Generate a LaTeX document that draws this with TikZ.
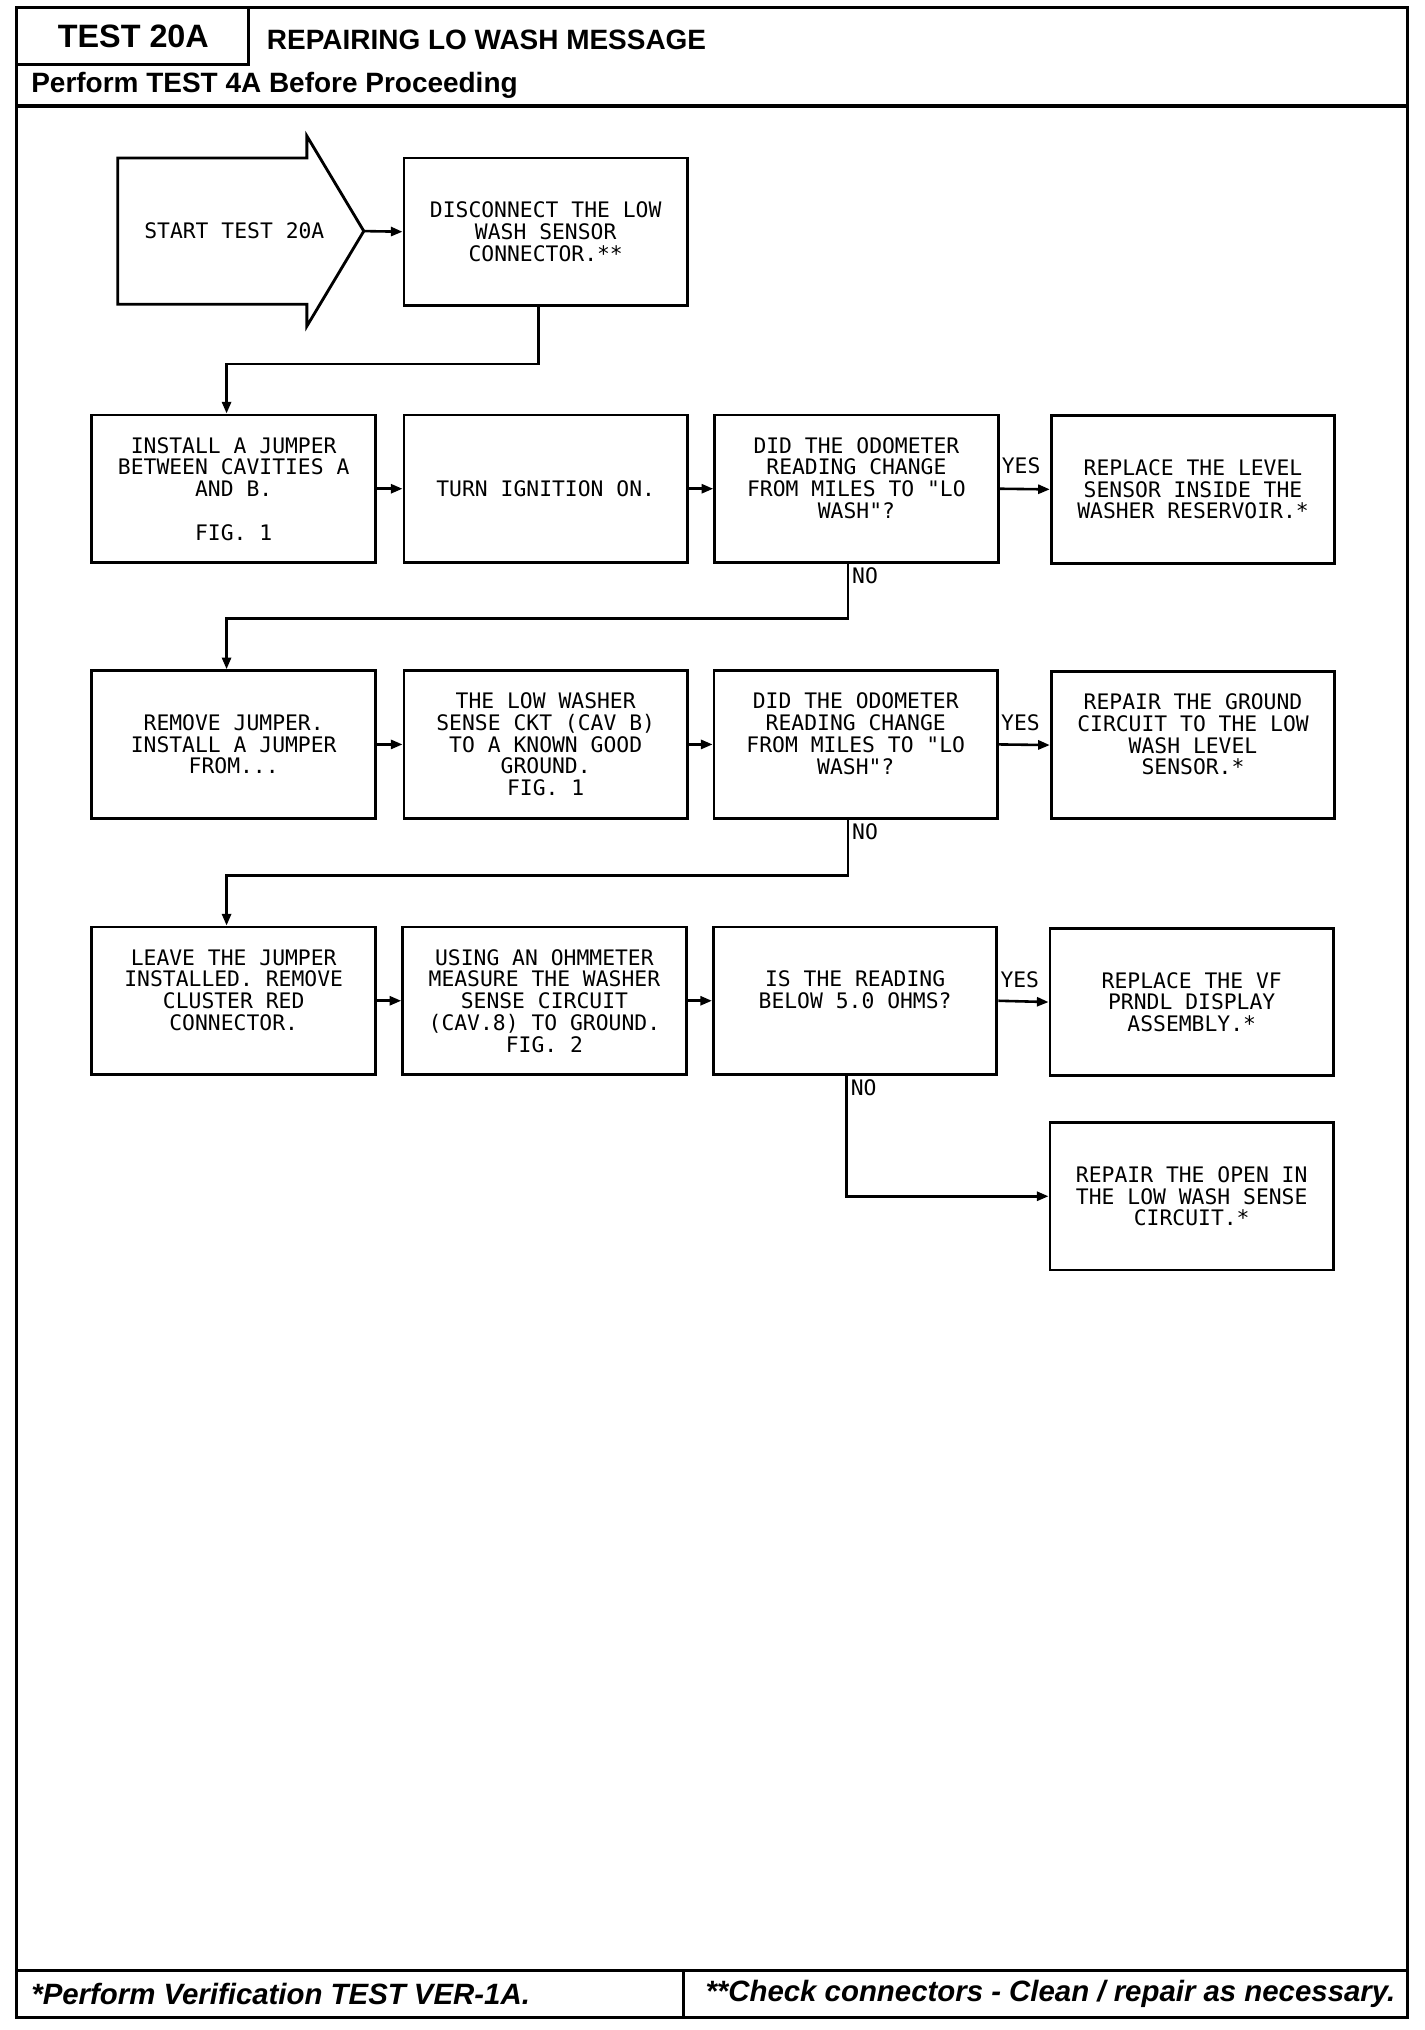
\documentclass[tikz,border=0pt]{standalone}
\usepackage{fontspec}
\setmainfont{Liberation Sans}
\newfontfamily\plotfont{DejaVu Sans Mono}
\usetikzlibrary{arrows.meta,calc}
\tikzset{
  frameline/.style={line width=2.3pt},
  heavyline/.style={line width=3pt},
  flowbox/.style={draw, line width=2.2pt, minimum width=219pt, minimum height=114pt,
    inner sep=0pt, align=center, font=\plotfont\fontsize{16.5}{16.8}\selectfont},
  conn/.style={line width=2pt, -{Triangle[length=9pt,width=7pt]}},
  plotlbl/.style={font=\plotfont\fontsize{16.5}{16.8}\selectfont, inner sep=0pt},
  headbig/.style={font=\bfseries\fontsize{25}{28}\selectfont, inner sep=0pt},
  headmid/.style={font=\bfseries\fontsize{21.6}{24}\selectfont, inner sep=0pt},
  footnote/.style={font=\bfseries\itshape\fontsize{22.7}{25}\selectfont, inner sep=0pt},
}
\begin{document}
\begin{tikzpicture}[x=1pt,y=-1pt]
\fill[white] (0,0) rectangle (1100,1568);
\useasboundingbox (0,0) rectangle (1100,1568);

% ---------- frame ----------
\draw[frameline] (13,5.5) rectangle (1087,1558);
\draw[frameline] (192,5.5) -- (192,49.5) -- (13,49.5);
\draw[heavyline] (13,82) -- (1087,82);
\draw[heavyline] (13,1522) -- (1087,1522);
\draw[frameline] (528,1522) -- (528,1558);

% ---------- header ----------
\node[headbig] (testno) at (103,28) {TEST 20A};
\node[headmid, anchor=west] (title) at (206,31) {REPAIRING LO WASH MESSAGE};
\node[headmid, anchor=west] (pre) at (24,66) {Perform TEST 4A Before Proceeding};

% ---------- start arrow ----------
\draw[line width=2.2pt, line join=miter] (91,122) -- (237,122) -- (237,105) -- (281,178.5)
  -- (237,252) -- (237,235) -- (91,235) -- cycle;
\node[plotlbl] (start) at (181,178.5) {START TEST 20A};
\coordinate (starttip) at (281,178.5);

% ---------- boxes ----------
\node[flowbox] (disc) at (421.5,179) {DISCONNECT THE LOW\\WASH SENSOR\\CONNECTOR.**};

\node[flowbox] (install) at (180.5,377.5) {INSTALL A JUMPER\\BETWEEN CAVITIES A\\AND B.\\[16.8pt]FIG. 1};
\node[flowbox] (turn) at (421.5,377.5) {TURN IGNITION ON.};
\node[flowbox] (did1) at (661.5,377.5) {DID THE ODOMETER\\READING CHANGE\\FROM MILES TO "LO\\WASH"?\\\mbox{}};
\node[flowbox] (repl1) at (921.5,378) {REPLACE THE LEVEL\\SENSOR INSIDE THE\\WASHER RESERVOIR.*};

\node[flowbox] (remove) at (180.5,575) {REMOVE JUMPER.\\INSTALL A JUMPER\\FROM...};
\node[flowbox] (low) at (421.5,575) {THE LOW WASHER\\SENSE CKT (CAV B)\\TO A KNOWN GOOD\\GROUND.\\FIG. 1};
\node[flowbox] (did2) at (661,575) {DID THE ODOMETER\\READING CHANGE\\FROM MILES TO "LO\\WASH"?\\\mbox{}};
\node[flowbox] (repair2) at (921.5,575.5) {REPAIR THE GROUND\\CIRCUIT TO THE LOW\\WASH LEVEL\\SENSOR.*\\\mbox{}};

\node[flowbox] (leave) at (180.5,773) {LEAVE THE JUMPER\\INSTALLED. REMOVE\\CLUSTER RED\\CONNECTOR.\\\mbox{}};
\node[flowbox] (using) at (420.5,773) {USING AN OHMMETER\\MEASURE THE WASHER\\SENSE CIRCUIT\\(CAV.8) TO GROUND.\\FIG. 2};
\node[flowbox] (is) at (660.5,773) {IS THE READING\\BELOW 5.0 OHMS?\\\mbox{}};
\node[flowbox] (repvf) at (920.5,774) {REPLACE THE VF\\PRNDL DISPLAY\\ASSEMBLY.*};
\node[flowbox] (open) at (920.5,924) {REPAIR THE OPEN IN\\THE LOW WASH SENSE\\CIRCUIT.*};

% ---------- connectors ----------
\draw[conn] (starttip) -- (disc.west);
\draw[conn] ([xshift=-5.5pt]disc.south) -- ++(0,44) -| ([xshift=-5.5pt]install.north);

\draw[conn] (install.east) -- (turn.west);
\draw[conn] (turn.east) -- (did1.west);
\draw[conn] (did1.east) -- (repl1.west);
\draw[conn] ([xshift=-6.5pt]did1.south) -- ++(0,42) -| ([xshift=-5.5pt]remove.north);

\draw[conn] (remove.east) -- (low.west);
\draw[conn] (low.east) -- (did2.west);
\draw[conn] (did2.east) -- (repair2.west);
\draw[conn] ([xshift=-6pt]did2.south) -- ++(0,43) -| ([xshift=-5.5pt]leave.north);

\draw[conn] (leave.east) -- (using.west);
\draw[conn] (using.east) -- (is.west);
\draw[conn] (is.east) -- (repvf.west);
\draw[conn] ([xshift=-6.5pt]is.south) |- (open.west);

% ---------- branch labels ----------
\node[plotlbl, anchor=west] (yes1) at ([shift={(1.5,-18)}]did1.east) {YES};
\node[plotlbl, anchor=west] (yes2) at ([shift={(1.5,-17)}]did2.east) {YES};
\node[plotlbl, anchor=west] (yes3) at ([shift={(1.5,-16)}]is.east) {YES};
\node[plotlbl, anchor=north west] (no1) at ([shift={(-3.5,3)}]did1.south) {NO};
\node[plotlbl, anchor=north west] (no2) at ([shift={(-3,3)}]did2.south) {NO};
\node[plotlbl, anchor=north west] (no3) at ([shift={(-3.5,3)}]is.south) {NO};

% ---------- footer ----------
\node[footnote, anchor=west] (fn1) at (24,1540) {*Perform Verification TEST VER-1A.};
\node[footnote, anchor=east] (fn2) at (1078,1540) {**Check connectors - Clean / repair as necessary.};
\end{tikzpicture}
\end{document}
